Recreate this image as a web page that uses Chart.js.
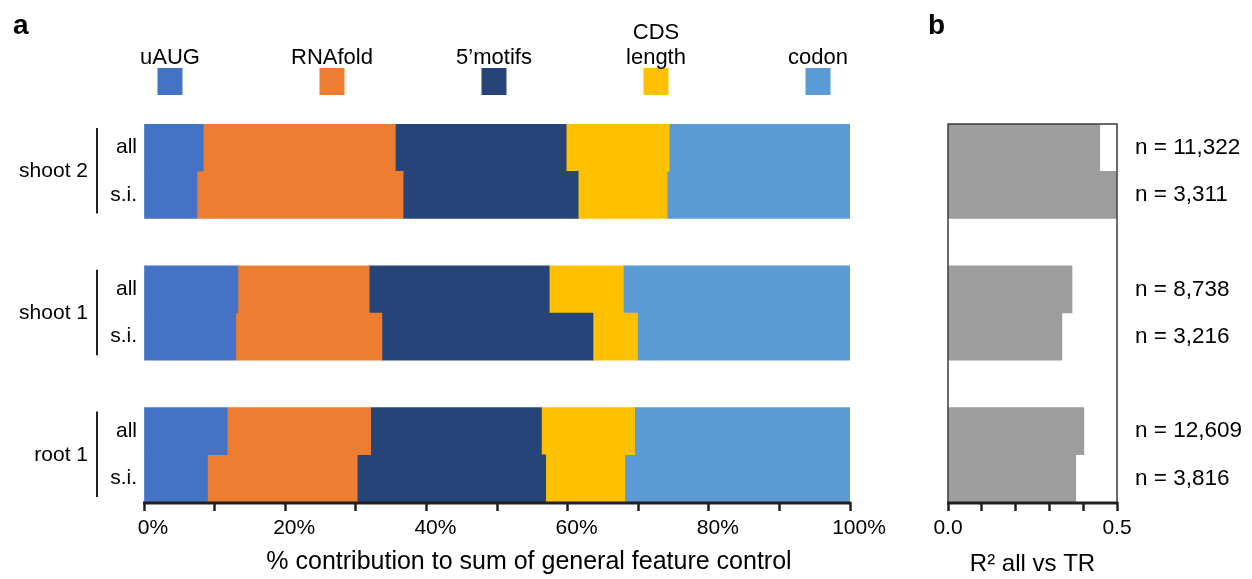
<!DOCTYPE html>
<html>
<head>
<meta charset="utf-8">
<script src="https://cdn.jsdelivr.net/npm/chart.js@4.4.1/dist/chart.umd.min.js"></script>
<style>
  html, body { margin: 0; padding: 0; background: #fff; }
  #wrap { position: relative; width: 1252px; height: 579px; overflow: hidden; }
  #ca { position: absolute; left: 0; top: 0; }
  #cb { position: absolute; left: 910px; top: 0; }
</style>
</head>
<body>
<div id="wrap">
  <canvas id="ca" width="910" height="579"></canvas>
  <canvas id="cb" width="342" height="579"></canvas>
</div>
<script>
// ---------- data ----------
const groupNames = ['shoot 2', 'shoot 1', 'root 1'];
const rowLabels = ['all', 's.i.', 'all', 's.i.', 'all', 's.i.'];
const featureNames = [['uAUG'], ['RNAfold'], ['5\u2019motifs'], ['CDS', 'length'], ['codon']];
const featureColors = ['#4472C4', '#ED7D31', '#264478', '#FFC000', '#5B9BD5'];
const uAUG     = [8.4, 7.5, 13.3, 13.0, 11.8, 9.0];
const RNAfold  = [27.2, 29.2, 18.6, 20.7, 20.3, 21.2];
const motifs5  = [24.2, 24.8, 25.5, 29.9, 24.2, 26.7];
const cdsLen   = [14.6, 12.6, 10.5, 6.3, 13.2, 11.2];
const codon    = [25.6, 25.9, 32.1, 30.1, 30.5, 31.9];
const r2AllVsTR = [0.449, 0.498, 0.367, 0.337, 0.402, 0.378];
const nLabels  = ['n = 11,322', 'n = 3,311', 'n = 8,738', 'n = 3,216', 'n = 12,609', 'n = 3,816'];
const pctTickLabels = ['0%', '20%', '40%', '60%', '80%', '100%'];
const r2TickLabels = ['0.0', '0.5'];

// ---------- helpers: insert a blank slot between groups ----------
function slots(arr, blank) {
  const out = [];
  arr.forEach((v, i) => {
    out.push(v);
    if (i % 2 === 1 && i < arr.length - 1) out.push(blank);
  });
  return out;
}
const slotLabels = slots(rowLabels, '');
const FONT = '"Liberation Sans", Arial, Helvetica, sans-serif';
Chart.defaults.font.family = FONT;
Chart.defaults.color = '#000';
Chart.defaults.animation = false;
const AXIS = '#231f20';

function groupRange(scale, g) {
  const i0 = g * 3, i1 = g * 3 + 1;
  const half = (scale.getPixelForValue(1) - scale.getPixelForValue(0)) / 2;
  return [scale.getPixelForValue(i0) - half, scale.getPixelForValue(i1) + half];
}
function drawBaseline(chart) {
  const ctx = chart.ctx, a = chart.chartArea;
  ctx.save();
  ctx.strokeStyle = AXIS; ctx.lineWidth = 3;
  ctx.beginPath(); ctx.moveTo(a.left - 1, a.bottom + 1); ctx.lineTo(a.right + 1, a.bottom + 1); ctx.stroke();
  ctx.restore();
}

// ---------- chart a ----------
const seriesA = [uAUG, RNAfold, motifs5, cdsLen, codon];
const plugA = {
  id: 'decorA',
  afterDraw(chart) {
    const ctx = chart.ctx, y = chart.scales.y;
    drawBaseline(chart);
    ctx.save();
    // panel letter
    ctx.fillStyle = '#000';
    ctx.font = 'bold 28px ' + FONT;
    ctx.textAlign = 'left'; ctx.textBaseline = 'alphabetic';
    ctx.fillText('a', 13, 34);
    // legend
    ctx.font = '22px ' + FONT;
    ctx.textAlign = 'center';
    chart.data.datasets.forEach((ds, i) => {
      const cx = 170 + i * 162;
      ctx.fillStyle = ds.backgroundColor;
      ctx.fillRect(cx - 12.5, 68, 25, 27);
      ctx.fillStyle = '#000';
      const lines = ds.labelLines;
      lines.forEach((t, k) => {
        ctx.fillText(t, cx, 64 - (lines.length - 1 - k) * 25);
      });
    });
    // group labels & brackets
    ctx.font = '21px ' + FONT;
    ctx.textAlign = 'right'; ctx.textBaseline = 'middle';
    groupNames.forEach((name, g) => {
      const [t, b] = groupRange(y, g);
      ctx.fillStyle = '#000';
      ctx.fillText(name, 88, (t + b) / 2);
      ctx.strokeStyle = AXIS; ctx.lineWidth = 2;
      ctx.beginPath(); ctx.moveTo(97, t + 4); ctx.lineTo(97, b - 5); ctx.stroke();
    });
    // x title
    ctx.font = '25px ' + FONT;
    ctx.textAlign = 'center'; ctx.textBaseline = 'middle';
    ctx.fillText('% contribution to sum of general feature control', 529, 562);
    ctx.restore();
  }
};

new Chart(document.getElementById('ca'), {
  type: 'bar',
  data: {
    labels: slotLabels,
    datasets: seriesA.map((s, i) => ({
      label: featureNames[i].join(' '),
      labelLines: featureNames[i],
      data: slots(s, null),
      backgroundColor: featureColors[i],
      borderWidth: 0,
      barPercentage: 1,
      categoryPercentage: 1
    }))
  },
  options: {
    indexAxis: 'y',
    responsive: false,
    devicePixelRatio: 1,
    layout: { padding: { left: 0, top: 124, right: 60, bottom: 0 } },
    plugins: { legend: { display: false }, tooltip: { enabled: false } },
    scales: {
      x: {
        stacked: true, min: 0, max: 100,
        afterFit(s) { s.height = 77; },
        ticks: {
          stepSize: 10, autoSkip: false, maxRotation: 0, labelOffset: 9, padding: 5,
          font: { size: 21 }, color: '#000',
          callback: v => (v % 20 === 0 ? pctTickLabels[v / 20] : '')
        },
        grid: { drawOnChartArea: false, drawTicks: true, tickLength: 9, tickWidth: 2.5, tickColor: AXIS },
        border: { display: false }
      },
      y: {
        stacked: true,
        afterFit(s) { s.width = 144; },
        ticks: { font: { size: 21 }, color: '#000', padding: 7, autoSkip: false },
        grid: { display: false, drawTicks: false },
        border: { display: false }
      }
    }
  },
  plugins: [plugA]
});

// ---------- chart b ----------
const plugB = {
  id: 'decorB',
  afterDraw(chart) {
    const ctx = chart.ctx, y = chart.scales.y, a = chart.chartArea;
    drawBaseline(chart);
    ctx.save();
    ctx.fillStyle = '#000';
    ctx.font = 'bold 28px ' + FONT;
    ctx.textAlign = 'left'; ctx.textBaseline = 'alphabetic';
    ctx.fillText('b', 18, 34);
    // frame
    ctx.strokeStyle = '#3a3a3a'; ctx.lineWidth = 1.5;
    ctx.beginPath();
    ctx.moveTo(a.left, a.bottom); ctx.lineTo(a.left, a.top);
    ctx.lineTo(a.right, a.top); ctx.lineTo(a.right, a.bottom);
    ctx.stroke();
    // n labels
    ctx.font = '22.5px ' + FONT;
    ctx.textAlign = 'left'; ctx.textBaseline = 'middle';
    chart.data.labels.forEach((lab, i) => {
      if (!lab) return;
      ctx.fillText(lab, a.right + 18, y.getPixelForValue(i));
    });
    ctx.restore();
  }
};

new Chart(document.getElementById('cb'), {
  type: 'bar',
  data: {
    labels: slots(nLabels, ''),
    datasets: [{
      label: 'R2 all vs TR',
      data: slots(r2AllVsTR, null),
      backgroundColor: '#9d9d9d',
      borderWidth: 0,
      barPercentage: 1,
      categoryPercentage: 1
    }]
  },
  options: {
    indexAxis: 'y',
    responsive: false,
    devicePixelRatio: 1,
    layout: { padding: { left: 38, top: 124, right: 135, bottom: 0 } },
    plugins: { legend: { display: false }, tooltip: { enabled: false } },
    scales: {
      x: {
        min: 0, max: 0.5,
        afterFit(s) { s.height = 77; },
        ticks: {
          stepSize: 0.1, autoSkip: false, maxRotation: 0, padding: 5,
          font: { size: 21 }, color: '#000',
          callback: v => (Math.abs(v) < 1e-9 ? r2TickLabels[0] : (Math.abs(v - 0.5) < 1e-9 ? r2TickLabels[1] : ''))
        },
        title: { display: true, text: 'R\u00B2 all vs TR', font: { size: 24 }, color: '#000', padding: { top: 5, bottom: 0 } },
        grid: { drawOnChartArea: false, drawTicks: true, tickLength: 9, tickWidth: 2.5, tickColor: AXIS },
        border: { display: false }
      },
      y: {
        display: false
      }
    }
  },
  plugins: [plugB]
});
</script>
</body>
</html>
